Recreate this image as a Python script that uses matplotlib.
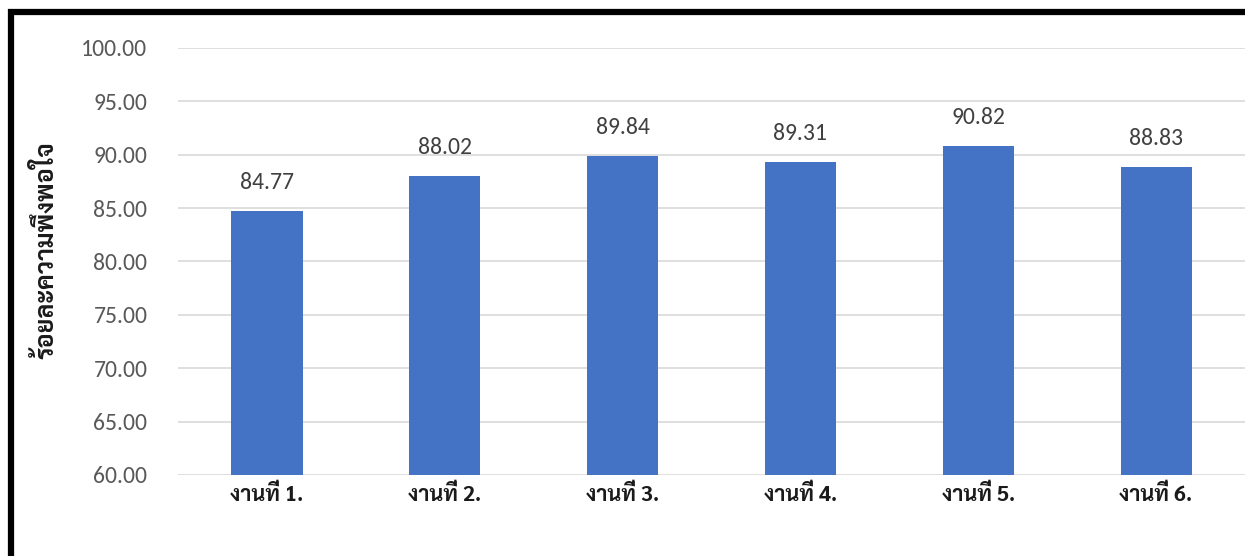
import matplotlib
matplotlib.use('Agg')
import matplotlib.pyplot as plt
from matplotlib.patches import Rectangle

# data
tasks = ['งานที่ 1.', 'งานที่ 2.', 'งานที่ 3.', 'งานที่ 4.', 'งานที่ 5.', 'งานที่ 6.']
scores = [84.77, 88.02, 89.84, 89.31, 90.82, 88.83]
yticks = [60, 65, 70, 75, 80, 85, 90, 95, 100]
ylabel = 'ร้อยละความพึงพอใจ'

num_font = ['Carlito', 'Sarabun', 'DejaVu Sans']
thai_font = ['Sarabun', 'DejaVu Sans']

fig = plt.figure(figsize=(12.45, 5.56), dpi=100)
ax = fig.add_axes([0.143, 0.1457, 0.857, 0.768])

x = range(len(tasks))
bars = ax.bar(x, scores, width=0.4, color='#4472C4', zorder=2)
ax.set_ylim(60, 100)
ax.set_xlim(-0.5, 5.5)
ax.set_yticks(yticks)
ax.set_yticklabels(['%.2f' % v for v in yticks], family=num_font, fontsize=17, color='#595959')
ax.set_xticks(list(x))
ax.set_xticklabels(tasks, family=thai_font, fontsize=15.5, fontweight='bold', color='#1a1a1a')
ax.tick_params(axis='y', length=0, pad=22)
ax.tick_params(axis='x', length=0, pad=7)
ax.grid(axis='y', color='#D9D9D9', linewidth=1.2, zorder=0)
for s in ax.spines.values():
    s.set_visible(False)

labels = ax.bar_label(bars, fmt='%.2f', padding=13, fontsize=17, color='#404040')
for t in labels:
    t.set_family(num_font)

fig.text(0.037, 0.55, ylabel, rotation=90, ha='center', va='center',
         family=thai_font, fontsize=18, fontweight='bold', color='#1a1a1a')

# thick black frame, cut off at right and bottom
fig.add_artist(Rectangle((0.0088, -0.2), 1.2, 1.178, transform=fig.transFigure,
                         fill=False, edgecolor='black', linewidth=4.5))

fig.savefig('out.png')
